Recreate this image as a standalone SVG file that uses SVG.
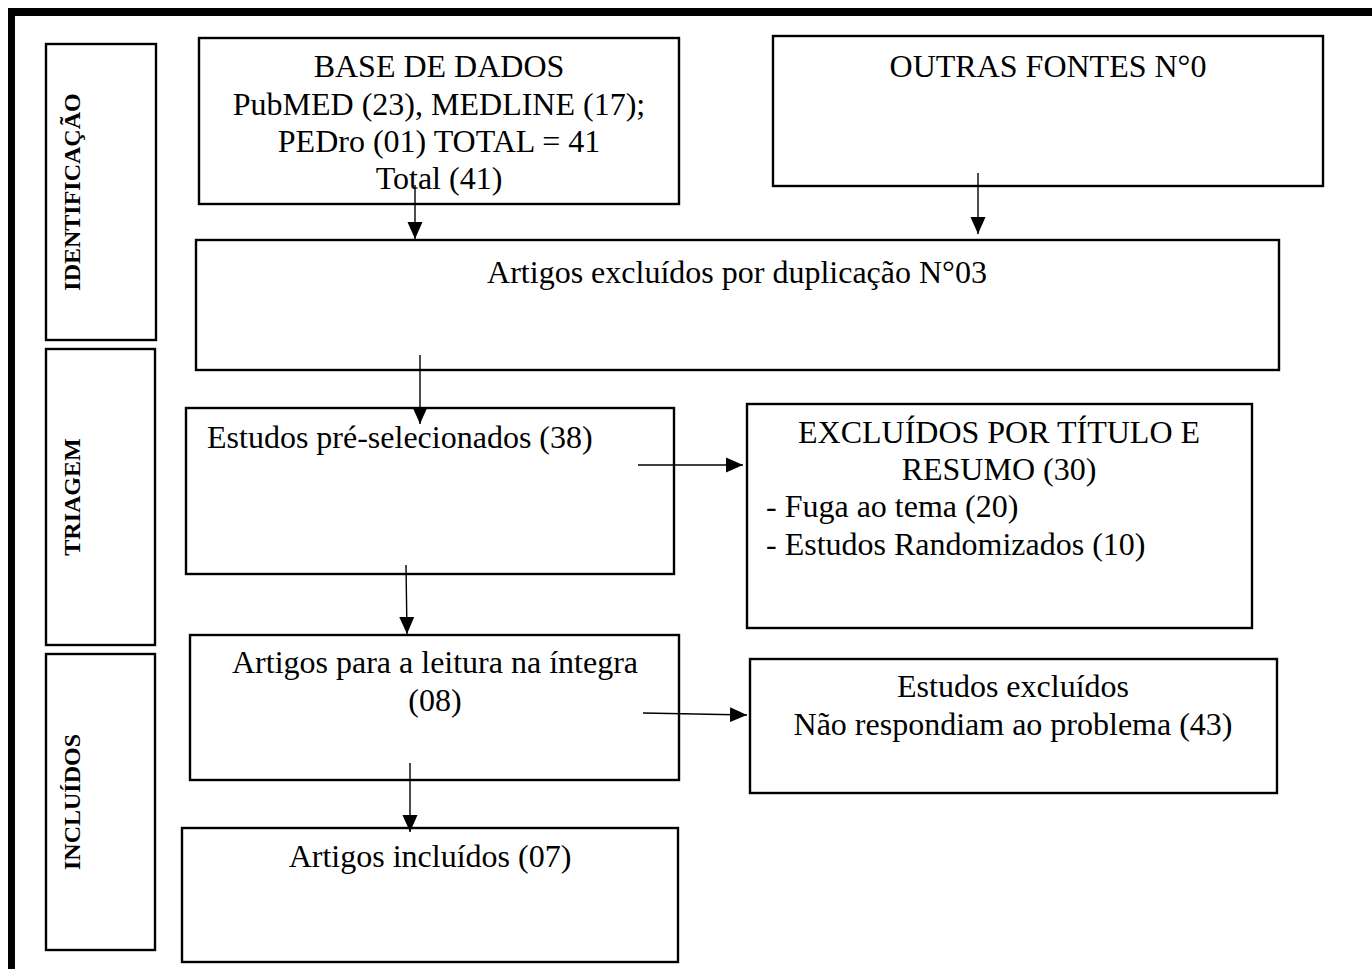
<svg xmlns="http://www.w3.org/2000/svg" width="1372" height="969" viewBox="0 0 1372 969">
<style>
.box{fill:#fff;stroke:#000;stroke-width:2.4}
.t{font-family:"Liberation Serif","Times New Roman",serif;font-size:32px;fill:#000}
.c{text-anchor:middle}
.lbl{font-family:"Liberation Serif","Times New Roman",serif;font-size:24px;font-weight:bold;fill:#000;text-anchor:middle}
.conn{stroke:#000;stroke-width:1.4;fill:none;marker-end:url(#ah)}
</style>
<defs>
<marker id="ah" markerUnits="userSpaceOnUse" markerWidth="18" markerHeight="16" viewBox="0 0 18 16" refX="17" refY="8" orient="auto">
<path d="M0,0.5 L17,8 L0,15.5 Z" fill="#000"/>
</marker>
</defs>
<rect width="1372" height="969" fill="#fff"/>
<g id="frame">
<rect x="8" y="8" width="1364" height="8" fill="#000"/>
<rect x="8" y="8" width="7" height="961" fill="#000"/>
</g>
<g id="label-identificacao">
<rect class="box" x="46" y="44" width="110" height="296"/>
<text class="lbl" transform="translate(80,192) rotate(-90)">IDENTIFICAÇÃO</text>
</g>
<g id="label-triagem">
<rect class="box" x="46" y="349" width="109" height="296"/>
<text class="lbl" transform="translate(80,497) rotate(-90)">TRIAGEM</text>
</g>
<g id="label-incluidos">
<rect class="box" x="46" y="654" width="109" height="296"/>
<text class="lbl" transform="translate(80,802) rotate(-90)">INCLUÍDOS</text>
</g>
<g id="base-dados">
<rect class="box" x="199" y="38" width="480" height="166"/>
<text class="t c" x="439" y="77">BASE DE DADOS</text>
<text class="t c" x="439" y="115">PubMED (23), MEDLINE (17);</text>
<text class="t c" x="439" y="152">PEDro (01) TOTAL = 41</text>
<text class="t c" x="439" y="189">Total (41)</text>
</g>
<g id="outras-fontes">
<rect class="box" x="773" y="36" width="550" height="150"/>
<text class="t c" x="1048" y="77">OUTRAS FONTES N°0</text>
</g>
<g id="duplicacao">
<rect class="box" x="196" y="240" width="1083" height="130"/>
<text class="t c" x="737" y="283">Artigos excluídos por duplicação N°03</text>
</g>
<g id="pre-selecionados">
<rect class="box" x="186" y="408" width="488" height="166"/>
<text class="t" x="207" y="448">Estudos pré-selecionados (38)</text>
</g>
<g id="excluidos-titulo">
<rect class="box" x="747" y="404" width="505" height="224"/>
<text class="t c" x="999" y="443">EXCLUÍDOS POR TÍTULO E</text>
<text class="t c" x="999" y="480">RESUMO (30)</text>
<text class="t" x="766" y="517">- Fuga ao tema (20)</text>
<text class="t" x="766" y="555">- Estudos Randomizados (10)</text>
</g>
<g id="leitura-integra">
<rect class="box" x="190" y="635" width="489" height="145"/>
<text class="t c" x="435" y="673">Artigos para a leitura na íntegra</text>
<text class="t c" x="435" y="711">(08)</text>
</g>
<g id="estudos-excluidos">
<rect class="box" x="750" y="659" width="527" height="134"/>
<text class="t c" x="1013" y="697">Estudos excluídos</text>
<text class="t c" x="1013" y="735">Não respondiam ao problema (43)</text>
</g>
<g id="artigos-incluidos">
<rect class="box" x="182" y="828" width="496" height="134"/>
<text class="t c" x="430" y="867">Artigos incluídos (07)</text>
</g>
<g id="connectors">
<path class="conn" d="M415,185 L415,239"/>
<path class="conn" d="M978,173 L978,234"/>
<path class="conn" d="M420,355 L420,424"/>
<path class="conn" d="M406,565 L407,634"/>
<path class="conn" d="M410,763 L410,832"/>
<path class="conn" d="M638,465 L743,465"/>
<path class="conn" d="M643,713 L747,715"/>
</g>
</svg>
